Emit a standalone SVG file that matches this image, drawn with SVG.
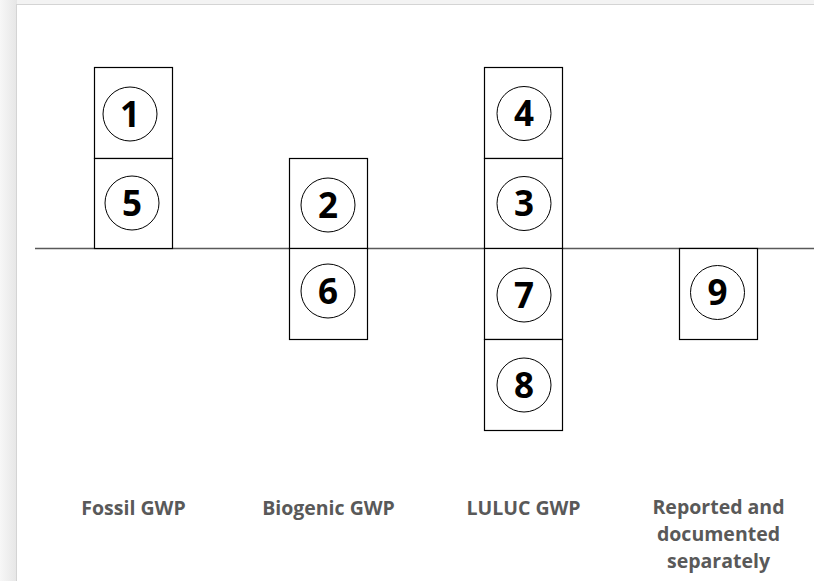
<svg xmlns="http://www.w3.org/2000/svg" width="814" height="581" viewBox="0 0 814 581">
  <defs>
    <linearGradient id="bgL" x1="0" y1="0" x2="1" y2="0">
      <stop offset="0" stop-color="#f7f7f7"/>
      <stop offset="1" stop-color="#e6e6e6"/>
    </linearGradient>
  </defs>
  <style>
    .box { fill: #ffffff; stroke: #000000; stroke-width: 1.2; }
    .circ { fill: none; stroke: #000000; stroke-width: 1; }
    .num { font-family: "Open Sans", "Liberation Sans", sans-serif; font-weight: bold; font-size: 35px; fill: #000000; text-anchor: middle; }
    .lbl { font-family: "Open Sans", "Liberation Sans", sans-serif; font-weight: bold; font-size: 19.5px; fill: #595959; text-anchor: middle; }
  </style>
  <rect x="0" y="0" width="814" height="581" fill="#f3f3f3"/>
  <rect x="0" y="0" width="17" height="581" fill="url(#bgL)"/>
  <rect x="16.5" y="4.5" width="800" height="580" fill="#ffffff" stroke="#d4d4d4" stroke-width="1"/>

  <g id="connectors">
    <line x1="35" y1="248.5" x2="814" y2="248.5" stroke="#595959" stroke-width="1.6"/>
  </g>

  <g id="node-1">
    <rect class="box" x="94.5" y="67.5" width="78" height="91"/>
    <circle class="circ" cx="130" cy="114" r="27"/>
    <text class="num" x="130" y="126.5">1</text>
  </g>
  <g id="node-5">
    <rect class="box" x="94.5" y="158.5" width="78" height="90"/>
    <circle class="circ" cx="132" cy="203" r="27"/>
    <text class="num" x="132" y="215.5">5</text>
  </g>

  <g id="node-2">
    <rect class="box" x="289.5" y="158.5" width="78" height="90"/>
    <circle class="circ" cx="328" cy="205" r="27"/>
    <text class="num" x="328" y="217.5">2</text>
  </g>
  <g id="node-6">
    <rect class="box" x="289.5" y="248.5" width="78" height="91"/>
    <circle class="circ" cx="328" cy="291" r="27"/>
    <text class="num" x="328" y="303.5">6</text>
  </g>

  <g id="node-4">
    <rect class="box" x="484.5" y="67.5" width="78" height="91"/>
    <circle class="circ" cx="524" cy="113.5" r="27"/>
    <text class="num" x="524" y="126">4</text>
  </g>
  <g id="node-3">
    <rect class="box" x="484.5" y="158.5" width="78" height="90"/>
    <circle class="circ" cx="524" cy="203.5" r="27"/>
    <text class="num" x="524" y="216">3</text>
  </g>
  <g id="node-7">
    <rect class="box" x="484.5" y="248.5" width="78" height="91"/>
    <circle class="circ" cx="524" cy="295" r="27"/>
    <text class="num" x="524" y="307.5">7</text>
  </g>
  <g id="node-8">
    <rect class="box" x="484.5" y="339.5" width="78" height="91"/>
    <circle class="circ" cx="524" cy="385" r="27"/>
    <text class="num" x="524" y="397.5">8</text>
  </g>

  <g id="node-9">
    <rect class="box" x="679.5" y="248.5" width="78" height="91"/>
    <circle class="circ" cx="717.5" cy="292.5" r="27"/>
    <text class="num" x="717.5" y="305">9</text>
  </g>

  <g id="labels">
    <text class="lbl" x="133.5" y="515">Fossil GWP</text>
    <text class="lbl" x="328.5" y="515">Biogenic GWP</text>
    <text class="lbl" x="523.5" y="515">LULUC GWP</text>
    <text class="lbl" x="718.5" y="514">Reported and</text>
    <text class="lbl" x="718.5" y="541">documented</text>
    <text class="lbl" x="718.5" y="568">separately</text>
  </g>
</svg>
